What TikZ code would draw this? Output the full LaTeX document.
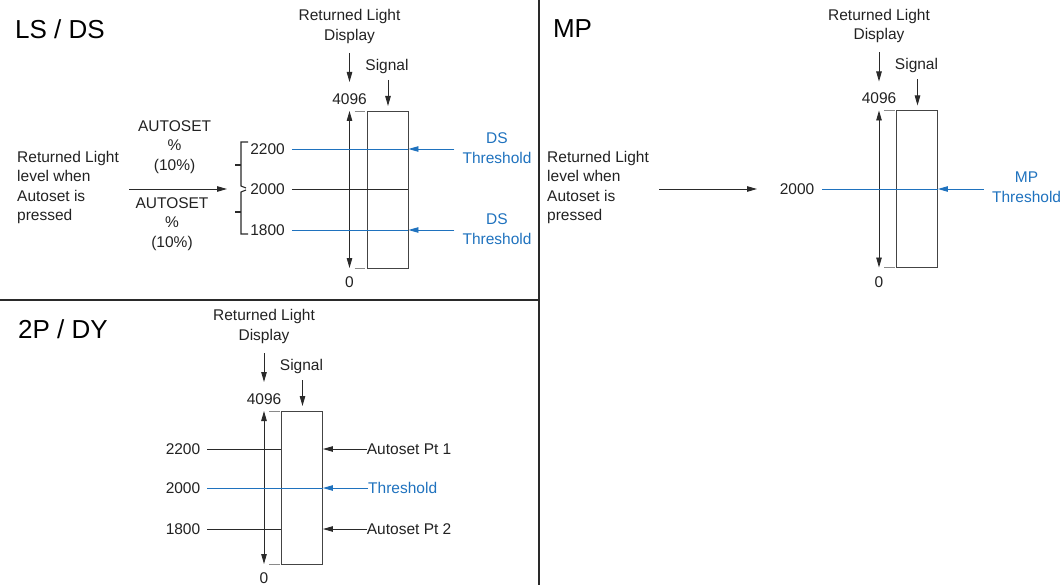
\documentclass[tikz,border=0pt]{standalone}
\usepackage{fontspec}
\setmainfont{Liberation Sans}
\usetikzlibrary{arrows.meta}
\definecolor{ink}{HTML}{222222}
\definecolor{lineg}{HTML}{2A2A2A}
\definecolor{rectg}{HTML}{444444}
\definecolor{tickg}{HTML}{8A8A8A}
\definecolor{tblue}{HTML}{1F72BE}
\tikzset{
  txt/.style={inner sep=0pt, text=ink, font=\fontsize{15.5}{19.5}\selectfont},
  btxt/.style={txt, text=tblue},
  ttl/.style={inner sep=0pt, text=black, font=\fontsize{26}{30}\selectfont},
  tip/.tip={Triangle[length=10pt,width=5.5pt]},
  kline/.style={draw=lineg, line width=0.9pt},
  bline/.style={draw=tblue, line width=0.9pt},
  arr/.style={kline, -tip},
  barr/.style={bline, -tip},
  dbl/.style={kline, tip-tip},
  tickl/.style={draw=tickg, line width=0.9pt},
  bar/.style={draw=rectg, line width=0.9pt, minimum width=41pt, inner sep=0pt},
  brace/.style={draw=lineg, line width=1.1pt},
  divl/.style={draw=lineg, line width=1.1pt}
}
% #1 prefix, #2 x of scale arrow, #3 y of scale top, #4 height
\newcommand\dispcol[4]{%
  \node[txt,align=center] (#1rld) at (#2,#3-84.5) {Returned Light\\Display};
  \coordinate (#1a1) at (#2,#3-58);
  \coordinate (#1a2) at (#2,#3-29);
  \draw[arr] (#1a1) -- (#1a2);
  \node[txt] (#1sig) at (#2+37.5,#3-45) {Signal};
  \coordinate (#1s1) at (#2+38.5,#3-31);
  \coordinate (#1s2) at (#2+38.5,#3-5);
  \draw[arr] (#1s1) -- (#1s2);
  \node[txt] (#1top) at (#2,#3-12) {4096};
  \node[bar, minimum height=#4pt] (#1bar) at (#2+38,#3+#4/2) {};
  \node[txt] (#1zero) at (#2,#3+#4+14.5) {0};
  \coordinate (#1up) at (#2,#3);
  \coordinate (#1dn) at (#2,#3+#4);
  \draw[dbl] (#1up) -- (#1dn);
  \draw[tickl] (#2+5,#3) -- (#2+15.5,#3);
  \draw[tickl] (#2+5,#3+#4) -- (#2+15.5,#3+#4);
}
\begin{document}
\begin{tikzpicture}[x=1pt,y=-1pt]
\useasboundingbox (0,0) rectangle (1064,585);
% dividers
\draw[divl] (539,0) -- (539,585);
\draw[divl] (0,300) -- (539,300);

% ---------- LS / DS ----------
\node[ttl] (lsT) at (60,29) {LS / DS};
\dispcol{a}{349.5}{111}{157}
\node[txt,align=left,anchor=west] (lsRL) at (17,187.5) {Returned Light\\level when\\Autoset is\\pressed};
\node[txt,align=center] (lsAu1) at (174.6,147) {AUTOSET\\\%\\(10\%)};
\node[txt,align=center] (lsAu2) at (172,224) {AUTOSET\\\%\\(10\%)};
\coordinate (lsm1) at (129,189);
\coordinate (lsm2) at (227,189);
\draw[arr] (lsm1) -- (lsm2);
\node[txt] (ls2200) at (267.5,149) {2200};
\node[txt] (ls2000) at (267.5,189) {2000};
\node[txt] (ls1800) at (267.5,230) {1800};
\draw[brace] (248,142) -- (241,142) -- (241,186) -- (246,188);
\draw[brace] (241,165) -- (235,165);
\draw[brace] (246,190) -- (241,192) -- (241,234) -- (248,234);
\draw[brace] (241,212) -- (235,212);
\draw[bline,shorten <=7pt] (ls2200.east) -- (ls2200.east -| abar.east);
\draw[kline,shorten <=7pt] (ls2000.east) -- (ls2000.east -| abar.east);
\draw[bline,shorten <=7pt] (ls1800.east) -- (ls1800.east -| abar.east);
\node[btxt,align=center] (ds1) at (497,148) {DS\\Threshold};
\node[btxt,align=center] (ds2) at (497,229) {DS\\Threshold};
\draw[barr,shorten <=8pt] (ds1.west |- ls2200.east) -- (abar.east |- ls2200.east);
\draw[barr,shorten <=8pt] (ds2.west |- ls1800.east) -- (abar.east |- ls1800.east);

% ---------- MP ----------
\node[ttl] (mpT) at (572.5,29) {MP};
\dispcol{b}{879}{110.5}{157}
\node[txt,align=left,anchor=west] (mpRL) at (547,187.5) {Returned Light\\level when\\Autoset is\\pressed};
\coordinate (mpm1) at (659,189);
\coordinate (mpm2) at (757,189);
\draw[arr] (mpm1) -- (mpm2);
\node[txt] (mp2000) at (797,189) {2000};
\draw[bline,shorten <=8pt] (mp2000.east) -- (mp2000.east -| bbar.east);
\node[btxt,align=center] (mpth) at (1026.6,187) {MP\\Threshold};
\draw[barr,shorten <=8pt] (mpth.west |- mp2000.east) -- (bbar.east |- mp2000.east);

% ---------- 2P / DY ----------
\node[ttl] (dyT) at (63,329) {2P / DY};
\dispcol{c}{264}{411}{153}
\node[txt] (dy2200) at (183,449) {2200};
\node[txt] (dy2000) at (183,488) {2000};
\node[txt] (dy1800) at (183,529) {1800};
\draw[kline,shorten <=7pt] (dy2200.east) -- (dy2200.east -| cbar.west);
\draw[bline,shorten <=7pt] (dy2000.east) -- (dy2000.east -| cbar.east);
\draw[kline,shorten <=7pt] (dy1800.east) -- (dy1800.east -| cbar.west);
\node[txt,anchor=west] (ap1) at (366.7,449) {Autoset Pt 1};
\node[btxt,anchor=west] (dyth) at (368,488) {Threshold};
\node[txt,anchor=west] (ap2) at (366.7,529) {Autoset Pt 2};
\draw[arr] (ap1.west) -- (ap1.west -| cbar.east);
\draw[barr] (dyth.west) -- (dyth.west -| cbar.east);
\draw[arr] (ap2.west) -- (ap2.west -| cbar.east);
\end{tikzpicture}
\end{document}
